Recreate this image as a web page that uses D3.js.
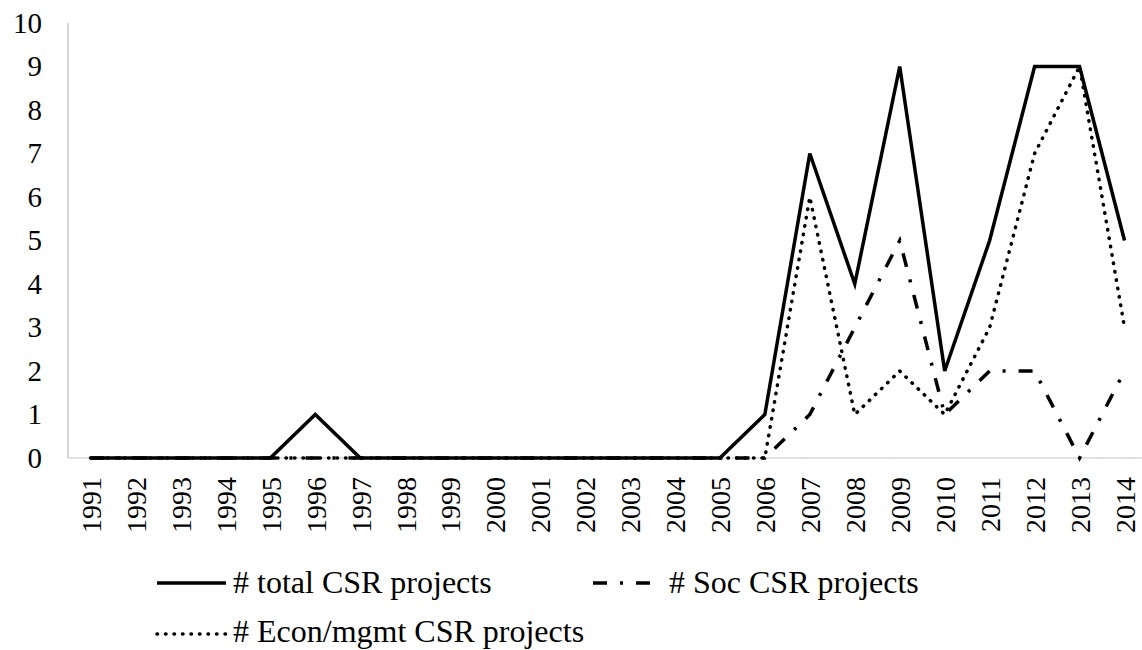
<!DOCTYPE html>
<html>
<head>
<meta charset="utf-8">
<script src="https://d3js.org/d3.v7.min.js"></script>
<style>
  body { margin: 0; background: #fff; }
  svg text { font-family: "Liberation Serif", "Times New Roman", serif; fill: #000; }
</style>
</head>
<body>
<script>
const years = ["1991","1992","1993","1994","1995","1996","1997","1998","1999","2000","2001","2002",
    "2003","2004","2005","2006","2007","2008","2009","2010","2011","2012","2013","2014"];
const totalCSR = [0,0,0,0,0,1,0,0,0,0,0,0,0,0,0,1,7,4,9,2,5,9,9,5];
const socCSR   = [0,0,0,0,0,0,0,0,0,0,0,0,0,0,0,0,1,3,5,1,2,2,0,2];
const econCSR  = [0,0,0,0,0,0,0,0,0,0,0,0,0,0,0,0,6,1,2,1,3,7,9,3];
const yTicks = [0,1,2,3,4,5,6,7,8,9,10];

const width = 1142;
const height = 650;

const svg = d3.select("body").append("svg")
    .attr("width", width)
    .attr("height", height);

const x = d3.scalePoint()
    .domain(years)
    .range([68, 1147])
    .padding(0.5);

const y = d3.scaleLinear()
    .domain([0, 10])
    .range([458, 23]);

// axis lines (light grey like excel)
svg.append("line")
    .attr("x1", 68).attr("x2", 68)
    .attr("y1", y(10)).attr("y2", y(0))
    .attr("stroke", "#c8c8c8").attr("stroke-width", 1.5);
svg.append("line")
    .attr("x1", 68).attr("x2", width)
    .attr("y1", y(0)).attr("y2", y(0))
    .attr("stroke", "#d9d9d9").attr("stroke-width", 1.5);

// y tick labels
const yAxis = svg.append("g")
    .attr("transform", "translate(68,0)")
    .call(d3.axisLeft(y).tickValues(yTicks).tickSize(0).tickPadding(26));
yAxis.select(".domain").remove();
yAxis.selectAll("text")
    .style("font-size", "29px")
    .style("font-family", "Liberation Serif, serif");

// x tick labels, rotated
const xAxis = svg.append("g")
    .attr("transform", `translate(0,${y(0)})`)
    .call(d3.axisBottom(x).tickSize(0));
xAxis.select(".domain").remove();
xAxis.selectAll("text")
    .attr("transform", "rotate(-90)")
    .attr("x", -19)
    .attr("y", 0)
    .attr("dy", "0.35em")
    .style("text-anchor", "end")
    .style("font-size", "28px")
    .style("font-family", "Liberation Serif, serif");

const series = [
    {name: "# total CSR projects", values: totalCSR, dash: null, cap: "butt"},
    {name: "# Soc CSR projects", values: socCSR, dash: "14 13 3 13", cap: "butt"},
    {name: "# Econ/mgmt CSR projects", values: econCSR, dash: "0.5 8", cap: "round"}
];

const line = d3.line()
    .x((d, i) => x(years[i]))
    .y(d => y(d));

// draw soc and econ first so total stays on top
[series[1], series[2], series[0]].forEach(s => {
    svg.append("path")
        .datum(s.values)
        .attr("d", line)
        .attr("fill", "none")
        .attr("stroke", "#000")
        .attr("stroke-width", 3.5)
        .attr("stroke-linejoin", "miter")
        .attr("stroke-linecap", s.cap)
        .attr("stroke-dasharray", s.dash);
});

// legend: [x, line y, text baseline]
const legendPos = [[157, 583, 593], [593, 583, 593], [157, 634, 642]];
series.forEach((s, i) => {
    const g = svg.append("g")
        .attr("transform", `translate(${legendPos[i][0]},0)`);
    g.append("line")
        .attr("x1", 0).attr("x2", 69)
        .attr("y1", legendPos[i][1]).attr("y2", legendPos[i][1])
        .attr("stroke", "#000")
        .attr("stroke-width", 3.5)
        .attr("stroke-linecap", s.cap)
        .attr("stroke-dasharray", s.dash);
    g.append("text")
        .attr("x", 76)
        .attr("y", legendPos[i][2])
        .style("font-size", "32px")
        .text(s.name);
});
</script>
</body>
</html>
